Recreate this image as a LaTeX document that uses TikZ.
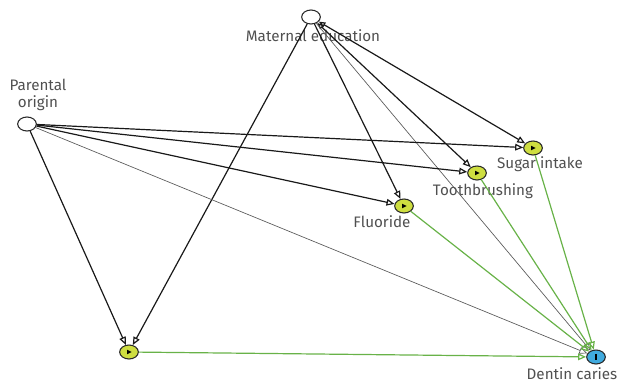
\documentclass[tikz,border=0pt]{standalone}
\usepackage{fontspec}
\setmainfont{Fira Sans}
\usetikzlibrary{shapes.geometric,arrows.meta}
\definecolor{nodeyellow}{RGB}{206,222,64}
\definecolor{nodeblue}{RGB}{64,170,222}
\definecolor{edgegreen}{RGB}{104,178,72}
\definecolor{labelgray}{RGB}{80,80,80}
\tikzset{
  var/.style={ellipse, draw=black!85, line width=0.8pt, minimum width=14pt, minimum height=10.5pt, inner sep=0pt},
  plainvar/.style={var, fill=white},
  expvar/.style={var, fill=nodeyellow},
  outvar/.style={var, fill=nodeblue},
  lbl/.style={text=labelgray, font=\fontsize{11.4}{12.5}\selectfont, inner sep=0pt, align=center},
  tip/.style={-{Triangle[open, length=6pt, width=5pt]}},
  blk/.style={draw=black!90, line width=0.9pt, tip},
  thin/.style={draw=black!65, line width=0.5pt, tip},
  grn/.style={draw=edgegreen, line width=0.9pt, -{Triangle[open, length=6pt, width=5pt]}}
}
\begin{document}
\begin{tikzpicture}[x=0.75pt,y=-0.75pt]
\useasboundingbox (0,0) rectangle (618,382);
\node[plainvar] (me) at (311,17) {};
\node[plainvar] (po) at (27,124) {};
\node[expvar] (si) at (533,148) {};
\node[expvar] (tb) at (477,173) {};
\node[expvar] (fl) at (404,206) {};
\node[expvar] (un) at (129,352) {};
\node[outvar] (dc) at (596,357) {};
\foreach \n in {si,tb,fl,un}{
  \fill[black] ([xshift=-1.4pt,yshift=1.7pt]\n.center) -- ([xshift=2pt]\n.center) -- ([xshift=-1.4pt,yshift=-1.7pt]\n.center) -- cycle;
}
\draw[black, line width=1.2pt] ([yshift=2pt]dc.center) -- ([yshift=-2pt]dc.center);

\node[lbl] (meL) at (313,36) {Maternal education};
\node[lbl] (poL) at (38,95) {Parental\\origin};
\node[lbl] (siL) at (540,164) {Sugar intake};
\node[lbl] (tbL) at (483,191) {Toothbrushing};
\node[lbl] (flL) at (382,222) {Fluoride};
\node[lbl] (dcL) at (572,374) {Dentin caries};

% maternal education
\draw[blk] (me) -- (un);
\draw[blk] (me) -- (fl);
\draw[blk, {Triangle[open, length=5pt, width=4pt]}-{Triangle[open, length=6pt, width=5pt]}] (me) -- (tb);
\draw[blk, {Triangle[open, length=5pt, width=4pt]}-{Triangle[open, length=6pt, width=5pt]}] (me) -- (si);
\draw[thin] (me) -- (dc);
% parental origin
\draw[blk] (po) -- (un);
\draw[blk] (po) -- (si);
\draw[blk] (po) -- (tb);
\draw[blk] (po) -- (fl);
\draw[thin] (po) -- (dc);
% to outcome
\draw[grn] (un) -- (dc);
\draw[grn] (fl) -- (dc);
\draw[grn] (tb) -- (dc);
\draw[grn] (si) -- (dc);
\end{tikzpicture}
\end{document}
